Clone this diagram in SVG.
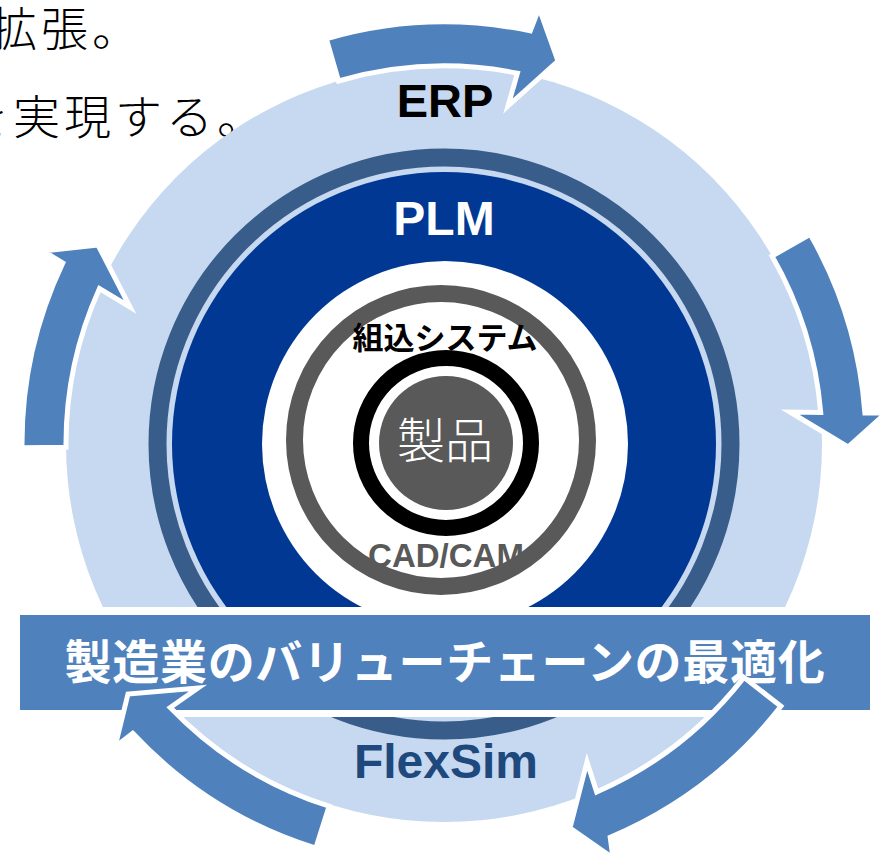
<svg xmlns="http://www.w3.org/2000/svg" width="882" height="859" viewBox="0 0 882 859">
<style>
.bg{font-family:"Noto Sans CJK JP","Noto Sans",sans-serif;font-weight:300;font-size:47px;fill:#000;letter-spacing:4px}
.lat{font-family:"Liberation Sans",Arial,sans-serif;font-weight:bold;text-anchor:middle}
.jp{font-family:"Noto Sans CJK JP","Noto Sans",sans-serif}
.arrow{fill:#4F81BD;stroke:#FFFFFF;stroke-width:5;stroke-linejoin:miter}
</style>
<rect width="882" height="859" fill="#FFFFFF"/>
<g id="background-text">
<text class="bg" x="-10" y="46">拡張。</text>
<text class="bg" x="-38" y="134">を</text>
<text class="bg" x="13" y="134">実現する。</text>
</g>
<g id="erp">
<circle cx="444" cy="444" r="378" fill="#C6D9F1"/>
<text class="lat" x="445" y="117" font-size="47" fill="#000000">ERP</text>
</g>
<g id="plm">
<circle cx="444" cy="444" r="286.5" fill="none" stroke="#385D8A" stroke-width="18"/>
<circle cx="444" cy="444" r="272" fill="#003894"/>
<text class="lat" x="444" y="235" font-size="48" fill="#FFFFFF">PLM</text>
</g>
<g id="cadcam">
<circle cx="445" cy="444" r="183" fill="#FFFFFF"/>
<circle cx="441" cy="440" r="146.5" fill="none" stroke="#595959" stroke-width="17"/>
<text class="lat" x="446" y="567" font-size="33" fill="#595959">CAD/CAM</text>
</g>
<g id="embedded">
<circle cx="446" cy="443" r="85" fill="none" stroke="#000000" stroke-width="16"/>
<text class="jp" x="445" y="349" font-size="31" font-weight="bold" text-anchor="middle" fill="#000000">組込システム</text>
</g>
<g id="product">
<circle cx="446" cy="443" r="67" fill="#595959"/>
<text class="jp" x="445" y="458" font-size="48" font-weight="300" text-anchor="middle" fill="#FFFFFF">製品</text>
</g>
<g id="flexsim">
<text class="lat" x="446" y="778" font-size="48" fill="#1F497D">FlexSim</text>
</g>
<g id="banner">
<rect x="12" y="607" width="866" height="110" fill="#FFFFFF"/>
<rect x="20" y="615" width="850" height="95" fill="#4F81BD"/>
<text class="jp" x="445" y="679" font-size="47" font-weight="bold" text-anchor="middle" letter-spacing="0.7" fill="#FFFFFF">製造業のバリューチェーンの最適化</text>
</g>
<g id="connectors">
<path class="arrow" d="M22,447.7 A422,422 0 0 1 62.8,263 L43,251 L98,245 L130,307 L99.5,288.5 A378,378 0 0 0 66,447.3 Z"/>
<path class="arrow" d="M326.3,38.8 A422,422 0 0 1 530.3,30.9 L539,8 L558,61 L508,106 L517.4,73.2 A378,378 0 0 0 338.5,81 Z"/>
<path class="arrow" d="M810.2,234.3 A422,422 0 0 1 864.9,413.1 L886,413 L848,447 L790,412 L820.7,412.4 A378,378 0 0 0 772,256.1 Z"/>
<path class="arrow" d="M780.9,706.3 A427,427 0 0 1 610.2,837.3 L613,858 L570,828 L587,762 L596.7,792 A380,380 0 0 0 743.9,677.4 Z"/>
<path class="arrow" d="M315.8,848.2 A425,425 0 0 1 132.7,733.3 L115,747 L128,694 L198,688 L170.2,707.5 A380,380 0 0 0 329.1,806.2 Z"/>
</g>
</svg>
